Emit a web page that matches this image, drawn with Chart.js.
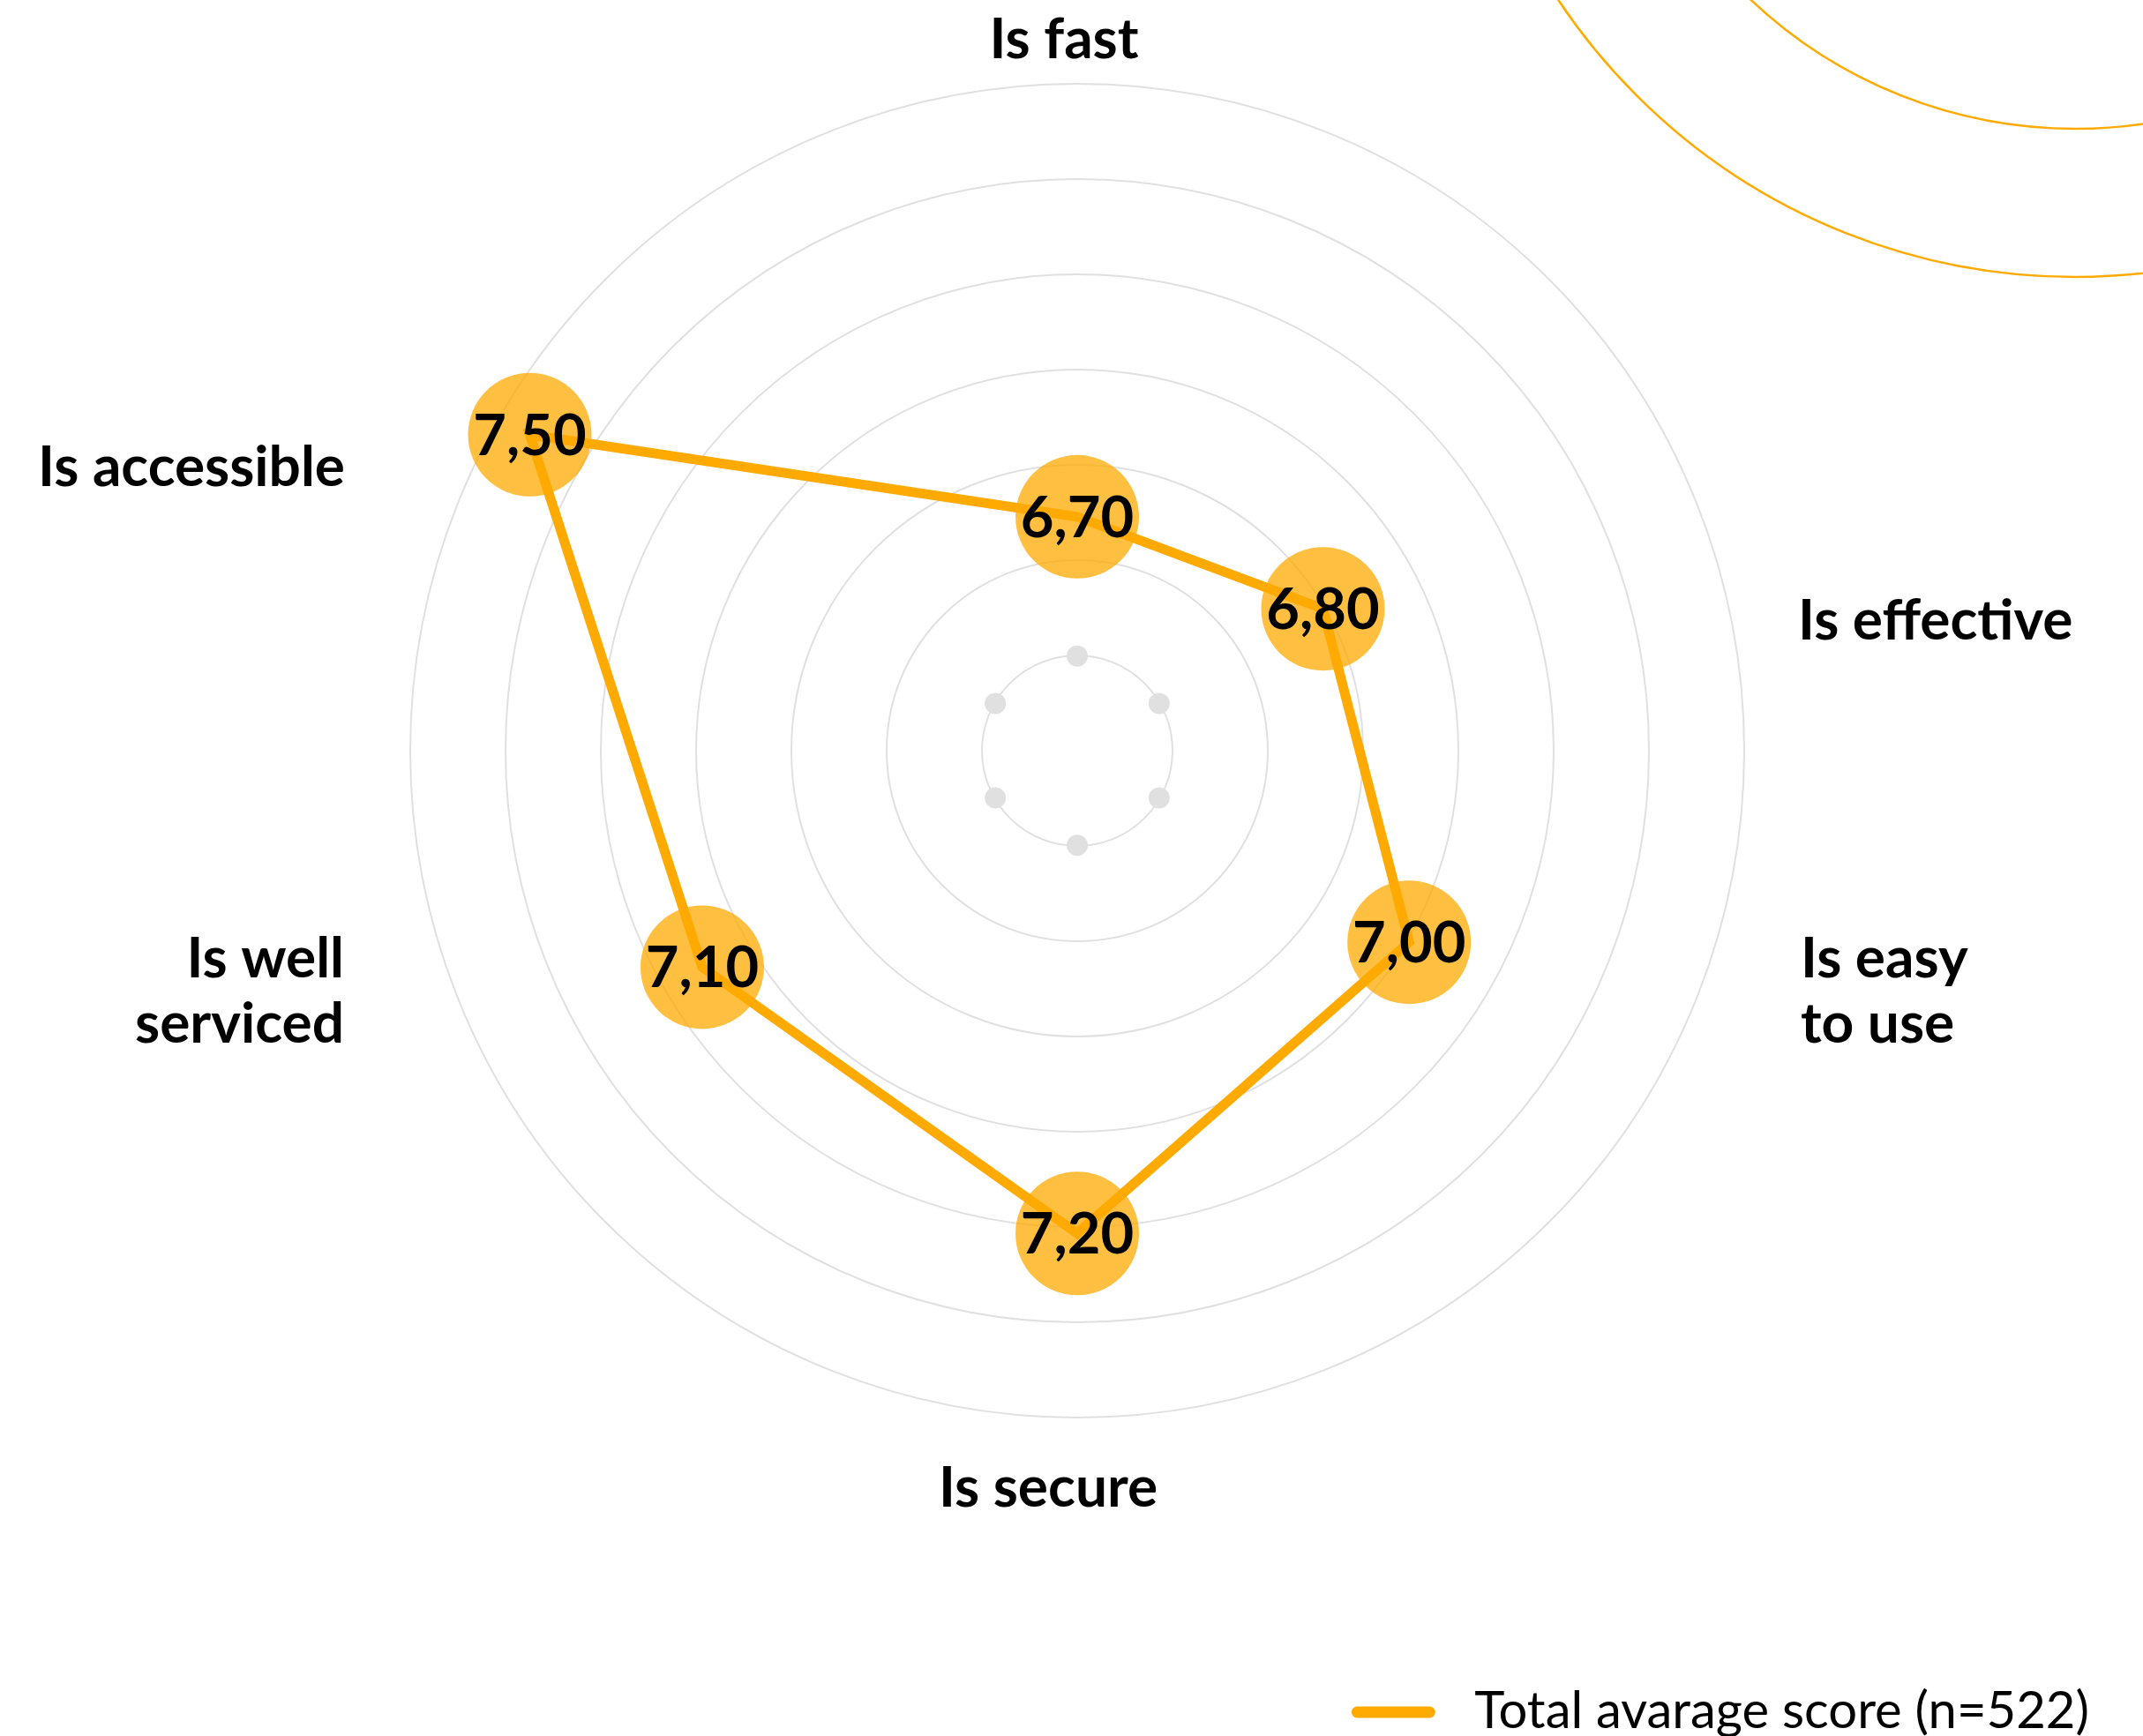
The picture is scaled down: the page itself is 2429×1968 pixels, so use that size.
<!DOCTYPE html>
<html lang="en">
<head>
<meta charset="UTF-8">
<title>Total avarage score radar</title>
<script src="https://cdn.jsdelivr.net/npm/chart.js@4.4.0/dist/chart.umd.min.js"></script>
<style>
  html, body { margin: 0; padding: 0; background: #fff; }
  #wrap { position: relative; width: 2429px; height: 1968px; }
</style>
</head>
<body>
<div id="wrap"><canvas id="radar"></canvas></div>
<script>
// data
const categories = ['Is fast', 'Is effective', ['Is easy', 'to use'], 'Is secure', ['Is well', 'serviced'], 'Is accessible'];
const scores = [6.70, 6.80, 7.00, 7.20, 7.10, 7.50];
const innerMarks = [6.42, 6.42, 6.42, 6.42, 6.42, 6.42];
const scaleMin = 6.23;
const scaleMax = 7.57;
const ringCount = 8; // centre + 7 rings
const seriesLabel = 'Total avarage score (n=522)';

const ORANGE = '#FFAA00';
const FONT = 'Lato, "Noto Sans", sans-serif';

// where each axis title sits, relative to the centre of the radial scale
const labelSpots = [
  { dx: -15, dy: -785, align: 'center' },
  { dx: 817, dy: -126, align: 'left' },
  { dx: 820, dy: 257, align: 'left' },
  { dx: -33, dy: 857, align: 'center' },
  { dx: -831, dy: 257, align: 'right' },
  { dx: -830, dy: -300, align: 'right' }
];

const decoRings = {
  id: 'decoRings',
  beforeDraw(chart) {
    const ctx = chart.ctx;
    ctx.save();
    ctx.strokeStyle = ORANGE;
    ctx.lineWidth = 2.5;
    [703, 535].forEach(r => {
      ctx.beginPath();
      ctx.arc(chart.width - 77, -389, r, 0, Math.PI * 2);
      ctx.stroke();
    });
    ctx.restore();
  }
};

const axisTitles = {
  id: 'axisTitles',
  afterDraw(chart) {
    const scale = chart.scales.r;
    const ctx = chart.ctx;
    ctx.save();
    ctx.fillStyle = '#000';
    ctx.font = 'bold 64px ' + FONT;
    ctx.textBaseline = 'alphabetic';
    chart.data.labels.forEach((lbl, i) => {
      const spot = labelSpots[i];
      const lines = Array.isArray(lbl) ? lbl : [lbl];
      ctx.textAlign = spot.align;
      lines.forEach((line, j) => {
        ctx.fillText(line, scale.xCenter + spot.dx, scale.yCenter + spot.dy + j * 74);
      });
    });
    ctx.restore();
  }
};

const valueTags = {
  id: 'valueTags',
  afterDatasetsDraw(chart) {
    const meta = chart.getDatasetMeta(0);
    const ctx = chart.ctx;
    ctx.save();
    ctx.fillStyle = '#000';
    ctx.font = 'bold 65px ' + FONT;
    ctx.textAlign = 'center';
    ctx.textBaseline = 'alphabetic';
    meta.data.forEach((pt, i) => {
      const txt = chart.data.datasets[0].data[i].toFixed(2).replace('.', ',');
      ctx.fillText(txt, pt.x, pt.y + 23);
    });
    ctx.restore();
  }
};

const bottomLegend = {
  id: 'bottomLegend',
  afterDraw(chart) {
    const ctx = chart.ctx;
    const ds = chart.data.datasets[0];
    ctx.save();
    ctx.font = '58px ' + FONT;
    ctx.textAlign = 'right';
    ctx.textBaseline = 'alphabetic';
    ctx.fillStyle = '#000';
    const right = chart.width - 61;
    const base = chart.height - 9;
    const w = ctx.measureText(ds.label).width;
    ctx.fillText(ds.label, right, base);
    const x1 = right - w - 51;
    ctx.strokeStyle = ds.borderColor;
    ctx.lineWidth = 13;
    ctx.lineCap = 'round';
    ctx.beginPath();
    ctx.moveTo(x1 - 82, base - 18);
    ctx.lineTo(x1, base - 18);
    ctx.stroke();
    ctx.restore();
  }
};

new Chart(document.getElementById('radar'), {
  type: 'radar',
  data: {
    labels: categories,
    datasets: [
      {
        label: seriesLabel,
        data: scores,
        borderColor: ORANGE,
        borderWidth: 11,
        fill: false,
        tension: 0,
        pointRadius: 70,
        pointHoverRadius: 70,
        pointBorderWidth: 0,
        pointBackgroundColor: 'rgba(255,170,0,0.75)'
      },
      {
        label: 'inner',
        data: innerMarks,
        showLine: false,
        borderWidth: 0,
        borderColor: 'rgba(0,0,0,0)',
        fill: false,
        pointRadius: 12,
        pointHoverRadius: 12,
        pointBorderWidth: 0,
        pointBackgroundColor: '#E0E0E0'
      }
    ]
  },
  options: {
    responsive: true,
    maintainAspectRatio: false,
    devicePixelRatio: 1,
    animation: false,
    layout: { padding: { top: 95, bottom: 361, left: 13, right: 0 } },
    plugins: {
      legend: { display: false },
      tooltip: { enabled: false }
    },
    scales: {
      r: {
        min: scaleMin,
        max: scaleMax,
        ticks: { display: false, count: ringCount },
        grid: { circular: true, color: '#E0E0E0', lineWidth: 2 },
        angleLines: { display: false },
        pointLabels: { display: false }
      }
    }
  },
  plugins: [decoRings, axisTitles, valueTags, bottomLegend]
});
</script>
</body>
</html>
